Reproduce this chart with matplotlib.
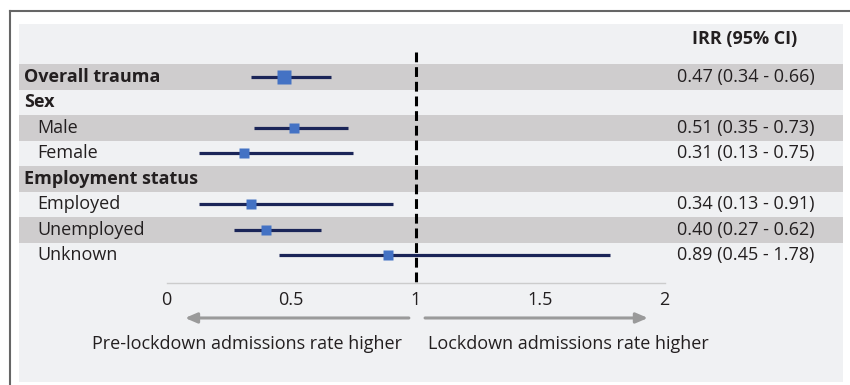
import matplotlib
matplotlib.use("Agg")
import matplotlib.pyplot as plt
from matplotlib.lines import Line2D
import matplotlib.transforms as mtransforms

# ---- data ----
row_labels = ["Overall trauma", "Sex", "Male", "Female", "Employment status",
              "Employed", "Unemployed", "Unknown"]
row_is_heading = [True, True, False, False, True, False, False, False]
row_shaded = [True, False, True, False, True, False, True, False]
irr = [0.47, None, 0.51, 0.31, None, 0.34, 0.40, 0.89]
ci_low = [0.34, None, 0.35, 0.13, None, 0.13, 0.27, 0.45]
ci_high = [0.66, None, 0.73, 0.75, None, 0.91, 0.62, 1.78]
x_ticks = [0, 0.5, 1, 1.5, 2]
tick_labels = ["0", "0.5", "1", "1.5", "2"]
ci_header = "IRR (95% CI)"
left_note = "Pre-lockdown admissions rate higher"
right_note = "Lockdown admissions rate higher"

# ---- style ----
plt.rcParams["font.family"] = ["Open Sans", "DejaVu Sans"]
FS = 13.0
TXT = "#231f20"
PANEL = "#f0f1f3"
BAND = "#cfcdce"
NAVY = "#1b2558"
BLUE = "#4472c4"
ARROW = "#9a9a9a"

W, H = 850, 385
fig = plt.figure(figsize=(W / 100, H / 100), dpi=100, facecolor="white")

# panel occupies pixels x 19..843, y 24..382
px0, px1, py0, py1 = 19, 843, 24, 382
ax = fig.add_axes([px0 / W, 1 - py1 / H, (px1 - px0) / W, (py1 - py0) / H])
ax.set_facecolor(PANEL)
for s in ax.spines.values():
    s.set_visible(False)
ax.set_xticks([])
ax.set_yticks([])

# data scale: 0 -> 166.6 px, 1 unit = 249 px ; rows 25.5 px, row 0 centred at 76.75 px
x0_px, x_unit = 166.6, 249.0
y0_px, y_unit = 76.75, 25.5
ax.set_xlim((px0 - x0_px) / x_unit, (px1 - x0_px) / x_unit)
ax.set_ylim((py1 - y0_px) / y_unit, (py0 - y0_px) / y_unit)

tr = mtransforms.blended_transform_factory(ax.transAxes, ax.transData)

for i, (lab, head, shade) in enumerate(zip(row_labels, row_is_heading, row_shaded)):
    if shade:
        ax.axhspan(i - 0.5, i + 0.5, color=BAND, lw=0, zorder=0)
    ax.text(0.006 if head else 0.0218, i, lab, transform=tr, ha="left", va="center",
            fontsize=FS, color=TXT, fontweight="bold" if head else "normal")
    if irr[i] is not None:
        big = i == 0
        ax.plot([ci_low[i], ci_high[i]], [i, i], color=NAVY, lw=2.3,
                solid_capstyle="butt", zorder=2)
        ax.plot(irr[i], i, marker="s", ms=10 if big else 6.5, color=BLUE,
                mec="none", zorder=3)
        ax.text(0.7985, i, f"{irr[i]:.2f} ({ci_low[i]:.2f} - {ci_high[i]:.2f})",
                transform=tr, ha="left", va="center", fontsize=FS, color=TXT)

ax.text(0.881, -1.48, ci_header, transform=tr, ha="center", va="center",
        fontsize=FS, color=TXT, fontweight="bold")

# x axis line and tick labels
axis_y = 8.08
ax.plot([x_ticks[0], x_ticks[-1]], [axis_y, axis_y], color="#cccccc", lw=1, zorder=1)
for t, tl in zip(x_ticks, tick_labels):
    ax.text(t, 8.755, tl, ha="center", va="center", fontsize=FS, color=TXT)

# reference line at IRR = 1
ax.plot([1, 1], [-0.97, axis_y], color="black", lw=2.2, ls=(0, (3.2, 1.6)),
        zorder=4, dash_capstyle="butt")

# direction arrows
arrow_y = 9.46
ax.annotate("", xy=(0.074, arrow_y), xytext=(0.973, arrow_y),
            arrowprops=dict(arrowstyle="-|>,head_length=0.7,head_width=0.3",
                            color=ARROW, lw=2.2, shrinkA=0, shrinkB=0))
ax.annotate("", xy=(1.933, arrow_y), xytext=(1.038, arrow_y),
            arrowprops=dict(arrowstyle="-|>,head_length=0.7,head_width=0.3",
                            color=ARROW, lw=2.2, shrinkA=0, shrinkB=0))
ax.text(0.945, 10.48, left_note, ha="right", va="center", fontsize=FS, color=TXT)
ax.text(1.05, 10.48, right_note, ha="left", va="center", fontsize=FS, color=TXT)

# outer frame (top and left edges)
fig.add_artist(Line2D([10 / W, 10 / W], [0, 1 - 11 / H], color="#666666", lw=1.5,
                      transform=fig.transFigure))
fig.add_artist(Line2D([10 / W, 1], [1 - 11 / H, 1 - 11 / H], color="#666666", lw=1.5,
                      transform=fig.transFigure))

fig.savefig("out.png", dpi=100, facecolor="white")
